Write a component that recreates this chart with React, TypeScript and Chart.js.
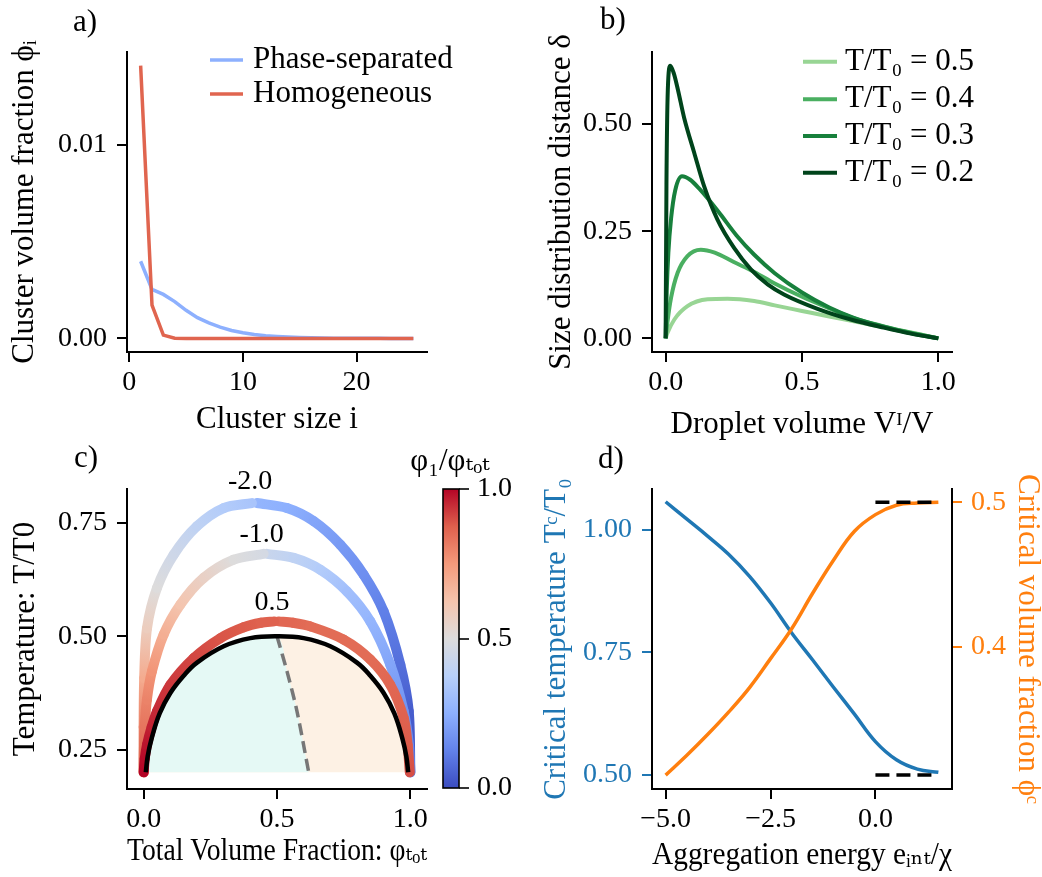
import React, { useEffect, useRef } from 'react';
import { Chart, registerables } from 'chart.js';
Chart.register(...registerables);

const W = 1042;
const H = 877;
const FONT = "'Liberation Serif', 'DejaVu Serif', serif";
const TICK_SIZE = 28;
const TITLE_SIZE = 31;
Chart.defaults.font.family = FONT;
Chart.defaults.color = '#000';

// ---------------- Panel a data ----------------
const CLUSTER_SIZE = [1, 2, 3, 4, 5, 6, 7, 8, 9, 10, 11, 12, 13, 14, 15, 16, 17, 18, 19, 20, 21, 22, 23, 24, 25];
const PHASE_SEPARATED = [0.00398, 0.00253, 0.00227, 0.00190, 0.00145, 0.00107, 0.00080, 0.00058, 0.00041, 0.00029, 0.00020, 0.00014, 0.00010, 0.00007, 0.00005, 0.00003, 0.00002, 0.000015, 0.00001, 0.000007, 0.000005, 0.000003, 0.000002, 0.000001, 0.000001];
const HOMOGENEOUS = [0.01407, 0.00172, 0.00017, 0.00001, 0, 0, 0, 0, 0, 0, 0, 0, 0, 0, 0, 0, 0, 0, 0, 0, 0, 0, 0, 0, 0];
const A_X_TICKS = [0, 10, 20];
const A_X_LABELS = ['0', '10', '20'];
const A_Y_TICKS = [0, 0.01];
const A_Y_LABELS = ['0.00', '0.01'];

// ---------------- Panel b data ----------------
const B_LABELS = ['T/T₀ = 0.5', 'T/T₀ = 0.4', 'T/T₀ = 0.3', 'T/T₀ = 0.2'];
const B_X_05 = [0, 0.007, 0.032, 0.08, 0.154, 0.227, 0.325, 0.4, 0.5, 0.6, 0.69, 0.8, 0.874, 1.0];
const B_Y_05 = [0, 0.013, 0.044, 0.075, 0.091, 0.0924, 0.087, 0.077, 0.064, 0.051, 0.04, 0.026, 0.017, 0];
const B_X_04 = [0, 0.007, 0.02, 0.044, 0.08, 0.129, 0.18, 0.25, 0.325, 0.4, 0.5, 0.6, 0.69, 0.8, 0.9, 1.0];
const B_Y_04 = [0, 0.04, 0.095, 0.153, 0.192, 0.207, 0.2, 0.178, 0.155, 0.128, 0.097, 0.07, 0.047, 0.028, 0.013, 0];
const B_X_03 = [0, 0.004, 0.01, 0.02, 0.035, 0.06, 0.09, 0.125, 0.16, 0.2, 0.26, 0.325, 0.4, 0.5, 0.6, 0.69, 0.8, 0.9, 1.0];
const B_Y_03 = [0, 0.11, 0.2, 0.28, 0.345, 0.378, 0.37, 0.348, 0.322, 0.29, 0.24, 0.195, 0.152, 0.107, 0.072, 0.048, 0.027, 0.012, 0];
const B_X_02 = [0, 0.003, 0.008, 0.017, 0.03, 0.045, 0.068, 0.105, 0.141, 0.19, 0.251, 0.3125, 0.374, 0.434, 0.557, 0.679, 0.8, 0.9, 1.0];
const B_Y_02 = [0, 0.36, 0.58, 0.636, 0.618, 0.58, 0.514, 0.4325, 0.355, 0.277, 0.211, 0.161, 0.126, 0.1025, 0.069, 0.044, 0.025, 0.011, 0];
const B_X_TICKS = [0, 0.5, 1];
const B_X_LABELS = ['0.0', '0.5', '1.0'];
const B_Y_TICKS = [0, 0.25, 0.5];
const B_Y_LABELS = ['0.00', '0.25', '0.50'];

// ---------------- Panel c data ----------------
const BLACK_PHI = [0.008, 0.015, 0.03, 0.06, 0.1, 0.15, 0.2, 0.3, 0.4, 0.5, 0.6, 0.7, 0.8, 0.85, 0.9, 0.94, 0.97, 0.985, 0.992];
const BLACK_T = [0.2, 0.235, 0.275, 0.33, 0.375, 0.413, 0.442, 0.478, 0.496, 0.5, 0.496, 0.478, 0.442, 0.413, 0.375, 0.33, 0.275, 0.235, 0.2];
const DASH_PHI = [0.5, 0.5375, 0.575, 0.619];
const DASH_T = [0.5, 0.4228, 0.3346, 0.2];

const E05_L_PHI = [0.0, 0.004, 0.0125, 0.03, 0.05, 0.1, 0.1875, 0.2875, 0.375, 0.44, 0.49];
const E05_L_T = [0.2, 0.23, 0.261, 0.3, 0.335, 0.393, 0.452, 0.496, 0.52, 0.53, 0.533];
const E05_L_C = [1.0, 0.99, 0.98, 0.96, 0.95, 0.93, 0.91, 0.89, 0.88, 0.87, 0.87];
const E05_R_PHI = [0.506, 0.56, 0.625, 0.75, 0.85, 0.925, 0.975, 0.99, 0.998];
const E05_R_T = [0.533, 0.53, 0.522, 0.493, 0.449, 0.393, 0.32, 0.26, 0.2];
const E05_R_C = [0.86, 0.86, 0.85, 0.85, 0.85, 0.86, 0.87, 0.88, 0.9];

const EM1_L_PHI = [0.0, 0.001, 0.004, 0.012, 0.031, 0.075, 0.1375, 0.225, 0.3375, 0.45];
const EM1_L_T = [0.2, 0.25, 0.3, 0.36, 0.423, 0.504, 0.57, 0.629, 0.669, 0.682];
const EM1_L_C = [0.86, 0.85, 0.83, 0.8, 0.76, 0.69, 0.62, 0.56, 0.5, 0.47];
const EM1_R_PHI = [0.4625, 0.5625, 0.6625, 0.7625, 0.85, 0.925, 0.975, 0.995, 1.0];
const EM1_R_T = [0.682, 0.673, 0.647, 0.599, 0.533, 0.4375, 0.335, 0.26, 0.2];
const EM1_R_C = [0.43, 0.4, 0.36, 0.31, 0.27, 0.22, 0.17, 0.14, 0.12];

const EM2_L_PHI = [0.0, 0.0, 0.002, 0.0125, 0.05, 0.1125, 0.2, 0.3, 0.406];
const EM2_L_T = [0.2, 0.3, 0.408, 0.518, 0.607, 0.68, 0.743, 0.783, 0.794];
const EM2_L_C = [0.85, 0.8, 0.7, 0.58, 0.5, 0.45, 0.4, 0.36, 0.33];
const EM2_R_PHI = [0.425, 0.5375, 0.6375, 0.7375, 0.825, 0.9, 0.9625, 0.994, 1.0];
const EM2_R_T = [0.794, 0.783, 0.754, 0.702, 0.636, 0.555, 0.4375, 0.335, 0.2];
const EM2_R_C = [0.27, 0.25, 0.22, 0.19, 0.16, 0.12, 0.08, 0.04, 0.02];

const E_LABELS = ['-2.0', '-1.0', '0.5'];
const E_LABEL_PHI = [0.399, 0.4425, 0.481];
const E_LABEL_T = [0.8406, 0.7236, 0.5736];
const C_X_TICKS = [0, 0.5, 1];
const C_X_LABELS = ['0.0', '0.5', '1.0'];
const C_Y_TICKS = [0.25, 0.5, 0.75];
const C_Y_LABELS = ['0.25', '0.50', '0.75'];
const CB_TICKS = [0, 0.5, 1];
const CB_LABELS = ['0.0', '0.5', '1.0'];

// ---------------- Panel d data ----------------
const E_INT = [-5, -4.5, -4, -3.5, -3, -2.5, -2, -1.5, -1, -0.5, 0, 0.5, 1, 1.5];
const T_CRIT = [1.057, 1.022, 0.987, 0.95, 0.905, 0.851, 0.79, 0.735, 0.679, 0.624, 0.568, 0.531, 0.512, 0.5055];
const PHI_CRIT = [0.3115, 0.325, 0.3395, 0.355, 0.372, 0.392, 0.4125, 0.437, 0.46, 0.48, 0.4915, 0.498, 0.4995, 0.5];
const LIMIT_X = [0, 1.5];
const T_LIMIT = 0.5;
const PHI_LIMIT = 0.5;
const D_X_TICKS = [-5, -2.5, 0];
const D_X_LABELS = ['\u22125.0', '\u22122.5', '0.0'];
const D_YL_TICKS = [0.5, 0.75, 1.0];
const D_YL_LABELS = ['0.50', '0.75', '1.00'];
const D_YR_TICKS = [0.4, 0.5];
const D_YR_LABELS = ['0.4', '0.5'];

// ---------------- colours ----------------
const BLUE_A = '#8db0fe';
const RED_A = '#e0654f';
const GREENS = ['#98d594', '#4aaf61', '#17803c', '#00441b'];
const TAB_BLUE = '#1f77b4';
const TAB_ORANGE = '#ff7f0e';
const COOLWARM: [number, number[]][] = [
  [0, [59, 76, 192]], [0.125, [98, 130, 234]], [0.25, [141, 176, 254]], [0.375, [184, 208, 249]],
  [0.5, [221, 220, 220]], [0.625, [245, 196, 173]], [0.75, [244, 154, 123]], [0.875, [222, 96, 77]], [1, [180, 4, 38]],
];
function coolwarm(v: number): string {
  const t = Math.max(0, Math.min(1, v));
  for (let i = 1; i < COOLWARM.length; i++) {
    const [v1, c1] = COOLWARM[i];
    const [v0, c0] = COOLWARM[i - 1];
    if (t <= v1) {
      const f = (t - v0) / (v1 - v0);
      const c = c0.map((a, k) => Math.round(a + (c1[k] - a) * f));
      return `rgb(${c[0]},${c[1]},${c[2]})`;
    }
  }
  return 'rgb(180,4,38)';
}

// ---------------- helpers ----------------
const HALF = TITLE_SIZE / 2;
function frame(l: number, r: number, t: number, b: number, yTitleX: number, xTitleY: number, rTitleX?: number) {
  const padLeft = yTitleX - HALF;
  const bottomEdge = xTitleY + HALF;
  const rightEdge = rTitleX !== undefined ? Math.min(W, rTitleX + HALF) : r;
  return {
    padding: { left: padLeft, top: t, right: W - rightEdge, bottom: H - bottomEdge },
    yWidth: l - padLeft,
    xHeight: bottomEdge - b,
    rWidth: rightEdge - r,
    rTitlePad: rTitleX !== undefined ? (rightEdge - rTitleX) - HALF : 0,
  };
}

function scale(o: any) {
  const vertical = o.position === 'left' || o.position === 'right';
  const col = o.color ?? '#000';
  return {
    type: 'linear',
    position: o.position,
    display: o.display ?? true,
    min: o.min,
    max: o.max,
    afterBuildTicks: (s: any) => { s.ticks = o.ticks.map((v: number) => ({ value: v })); },
    afterFit: (s: any) => { if (vertical) s.width = o.size; else s.height = o.size; },
    grid: { display: true, drawOnChartArea: false, drawTicks: true, tickLength: o.tickLength ?? 10, tickWidth: o.tickWidth ?? 2, tickColor: col, color: col, lineWidth: 2 },
    border: { display: o.border ?? true, color: '#000', width: 2 },
    ticks: {
      color: col, font: { family: FONT, size: TICK_SIZE }, autoSkip: false, maxRotation: 0, minRotation: 0,
      padding: o.padding ?? (vertical ? 10 : 4),
      callback: (_v: any, i: number) => o.labels[i],
    },
    title: { display: !!o.title, text: o.title, color: o.titleColor ?? '#000', font: { family: FONT, size: TITLE_SIZE, lineHeight: 1 }, padding: o.titlePad ?? 0 },
  };
}

function pts(xs: number[], ys: number[]) { return xs.map((x, i) => ({ x, y: ys[i] })); }

function makeExtras(cfg: any) {
  return {
    id: 'extras',
    beforeDatasetsDraw(chart: any) {
      if (!cfg.colorbar) return;
      const { ctx, chartArea: a } = chart;
      const ys = chart.scales.y;
      const g = ctx.createLinearGradient(0, ys.getPixelForValue(0), 0, ys.getPixelForValue(1));
      COOLWARM.forEach(([v]) => g.addColorStop(v, coolwarm(v)));
      ctx.save();
      ctx.fillStyle = g;
      ctx.fillRect(a.left, a.top, a.right - a.left, a.bottom - a.top);
      ctx.lineWidth = 1.6;
      ctx.strokeStyle = '#000';
      ctx.strokeRect(a.left, a.top, a.right - a.left, a.bottom - a.top);
      ctx.restore();
    },
    afterDraw(chart: any) {
      const ctx = chart.ctx;
      (cfg.texts || []).forEach((t: any) => {
        ctx.save();
        ctx.font = `${t.size ?? TITLE_SIZE}px ${FONT}`;
        ctx.fillStyle = t.color ?? '#000';
        ctx.textAlign = t.align ?? 'left';
        ctx.textBaseline = t.baseline ?? 'alphabetic';
        let x = t.x;
        let y = t.y;
        if (t.data) { x = chart.scales.x.getPixelForValue(t.x); y = chart.scales.y.getPixelForValue(t.y); }
        ctx.fillText(t.text, x, y);
        ctx.restore();
      });
      const lg = cfg.legend;
      if (lg) {
        lg.labels.forEach((label: string, i: number) => {
          const ds = chart.data.datasets.find((d: any) => d.label === label);
          if (!ds) return;
          const y = lg.ys[i];
          ctx.save();
          ctx.strokeStyle = ds.borderColor;
          ctx.lineWidth = ds.borderWidth;
          ctx.beginPath();
          ctx.moveTo(lg.x0, y);
          ctx.lineTo(lg.x1, y);
          ctx.stroke();
          ctx.font = `${TITLE_SIZE}px ${FONT}`;
          ctx.fillStyle = '#000';
          ctx.textAlign = 'left';
          ctx.textBaseline = 'middle';
          ctx.fillText(label, lg.tx, y);
          ctx.restore();
        });
      }
    },
  };
}

function baseOptions(f: any, scales: any) {
  return {
    responsive: false,
    animation: false,
    devicePixelRatio: 1,
    events: [],
    layout: { padding: f.padding, autoPadding: false },
    plugins: { legend: { display: false }, tooltip: { enabled: false }, title: { display: false } },
    scales,
  };
}

// ---------------- panels ----------------
function panelA() {
  const f = frame(127, 427, 52, 352, 24.5, 420);
  return {
    type: 'line',
    data: {
      datasets: [
        { label: 'Homogeneous', data: pts(CLUSTER_SIZE, HOMOGENEOUS), borderColor: RED_A, borderWidth: 3.5, pointRadius: 0, tension: 0, order: 0 },
        { label: 'Phase-separated', data: pts(CLUSTER_SIZE, PHASE_SEPARATED), borderColor: BLUE_A, borderWidth: 3.5, pointRadius: 0, tension: 0, order: 1 },
      ],
    },
    options: baseOptions(f, {
      x: scale({ position: 'bottom', min: -0.2, max: 26.2, ticks: A_X_TICKS, labels: A_X_LABELS, size: f.xHeight, title: 'Cluster size i' }),
      y: scale({ position: 'left', min: -0.0007, max: 0.01477, ticks: A_Y_TICKS, labels: A_Y_LABELS, size: f.yWidth, title: 'Cluster volume fraction \u03d5\u1d62' }),
    }),
    plugins: [makeExtras({
      texts: [{ text: 'a)', x: 73, y: 30.5 }],
      legend: { labels: ['Phase-separated', 'Homogeneous'], ys: [60, 94], x0: 210, x1: 243, tx: 253 },
    })],
  };
}

function panelB() {
  const f = frame(652, 952, 52, 352, 562, 425);
  const xs = [B_X_05, B_X_04, B_X_03, B_X_02];
  const ys = [B_Y_05, B_Y_04, B_Y_03, B_Y_02];
  return {
    type: 'line',
    data: {
      datasets: B_LABELS.map((label, i) => ({
        label, data: pts(xs[i], ys[i]), borderColor: GREENS[i], borderWidth: 4, pointRadius: 0,
        cubicInterpolationMode: 'monotone', order: 3 - i,
      })),
    },
    options: baseOptions(f, {
      x: scale({ position: 'bottom', min: -0.05, max: 1.05, ticks: B_X_TICKS, labels: B_X_LABELS, size: f.xHeight, title: 'Droplet volume V\u1d35/V' }),
      y: scale({ position: 'left', min: -0.0318, max: 0.668, ticks: B_Y_TICKS, labels: B_Y_LABELS, size: f.yWidth, title: 'Size distribution distance \u03b4' }),
    }),
    plugins: [makeExtras({
      texts: [{ text: 'b)', x: 600, y: 29 }],
      legend: { labels: B_LABELS, ys: [61.7, 99.3, 136, 172.7], x0: 803, x1: 837, tx: 845 },
    })],
  };
}

function gradientSegment(cvals: number[]) {
  return {
    borderColor: (ctx: any) => {
      const { p0, p1, p0DataIndex, p1DataIndex } = ctx;
      const g = ctx.chart.ctx.createLinearGradient(p0.x, p0.y, p1.x, p1.y);
      g.addColorStop(0, coolwarm(cvals[p0DataIndex]));
      g.addColorStop(1, coolwarm(cvals[p1DataIndex]));
      return g;
    },
    borderDashOffset: (ctx: any) => ctx.p0DataIndex * 0.001,
    borderCapStyle: 'round',
    borderJoinStyle: 'round',
    borderWidth: 10,
  };
}

function colouredCurve(phi: number[], t: number[], c: number[], order: number) {
  return {
    data: pts(phi, t), borderColor: coolwarm(c[0]), borderWidth: 10, pointRadius: 0, tension: 0.3,
    borderCapStyle: 'round', borderJoinStyle: 'round', segment: gradientSegment(c), order,
  };
}

function panelC() {
  const f = frame(127, 427, 489, 789, 25.5, 852);
  const blackPts = pts(BLACK_PHI, BLACK_T);
  const cyanPts = [...blackPts.filter((p) => p.x <= 0.5), ...pts(DASH_PHI, DASH_T).slice(1)];
  return {
    type: 'line',
    data: {
      datasets: [
        { data: blackPts, borderColor: '#000', borderWidth: 4.5, pointRadius: 0, tension: 0.4, order: 0 },
        { data: pts(DASH_PHI, DASH_T), borderColor: '#777777', borderWidth: 3.5, borderDash: [12, 6], pointRadius: 0, tension: 0.3, order: 1 },
        colouredCurve(E05_L_PHI, E05_L_T, E05_L_C, 2),
        colouredCurve(E05_R_PHI, E05_R_T, E05_R_C, 3),
        colouredCurve(EM1_L_PHI, EM1_L_T, EM1_L_C, 4),
        colouredCurve(EM1_R_PHI, EM1_R_T, EM1_R_C, 5),
        colouredCurve(EM2_L_PHI, EM2_L_T, EM2_L_C, 6),
        colouredCurve(EM2_R_PHI, EM2_R_T, EM2_R_C, 7),
        { data: cyanPts, borderColor: 'rgba(0,0,0,0)', borderWidth: 0, pointRadius: 0, tension: 0.4, fill: { value: 0.2 }, backgroundColor: '#e5f9f5', order: 8 },
        { data: blackPts, borderColor: 'rgba(0,0,0,0)', borderWidth: 0, pointRadius: 0, tension: 0.4, fill: { value: 0.2 }, backgroundColor: '#fdf1e4', order: 9 },
      ],
    },
    options: baseOptions(f, {
      x: scale({ position: 'bottom', min: -0.0625, max: 1.0625, ticks: C_X_TICKS, labels: C_X_LABELS, size: f.xHeight, title: 'Total Volume Fraction: \u03c6\u209c\u2092\u209c' }),
      y: scale({ position: 'left', min: 0.1633, max: 0.825, ticks: C_Y_TICKS, labels: C_Y_LABELS, size: f.yWidth, title: 'Temperature: T/T0' }),
    }),
    plugins: [makeExtras({
      texts: [
        { text: 'c)', x: 74, y: 467 },
        ...E_LABELS.map((text, i) => ({ text, x: E_LABEL_PHI[i], y: E_LABEL_T[i], data: true, align: 'center', baseline: 'middle', size: TICK_SIZE })),
      ],
    })],
  };
}

function colorbar() {
  const f = { padding: { left: 443, top: 489, right: W - 459 - 60, bottom: H - 788 } };
  return {
    type: 'line',
    data: { datasets: [] },
    options: baseOptions(f, {
      x: { type: 'linear', display: false, min: 0, max: 1 },
      y: scale({ position: 'right', min: 0, max: 1, ticks: CB_TICKS, labels: CB_LABELS, size: 60, border: false, tickWidth: 1.6, padding: 8 }),
    }),
    plugins: [makeExtras({
      colorbar: true,
      texts: [{ text: '\u03c6\u2081/\u03c6\u209c\u2092\u209c', x: 450, y: 462, align: 'center', baseline: 'middle' }],
    })],
  };
}

function panelD() {
  const f = frame(652, 952, 489, 789, 557, 856, 1026.7);
  return {
    type: 'line',
    data: {
      datasets: [
        { data: pts(LIMIT_X, LIMIT_X.map(() => T_LIMIT)), yAxisID: 'y', borderColor: '#000', borderWidth: 3.5, borderDash: [14, 7], pointRadius: 0, order: 0 },
        { data: pts(LIMIT_X, LIMIT_X.map(() => PHI_LIMIT)), yAxisID: 'y1', borderColor: '#000', borderWidth: 3.5, borderDash: [14, 7], pointRadius: 0, order: 1 },
        { data: pts(E_INT, T_CRIT), yAxisID: 'y', borderColor: TAB_BLUE, borderWidth: 3.5, pointRadius: 0, tension: 0.4, order: 3 },
        { data: pts(E_INT, PHI_CRIT), yAxisID: 'y1', borderColor: TAB_ORANGE, borderWidth: 3.5, pointRadius: 0, tension: 0.4, order: 2 },
      ],
    },
    options: baseOptions(f, {
      x: scale({ position: 'bottom', min: -5.325, max: 1.825, ticks: D_X_TICKS, labels: D_X_LABELS, size: f.xHeight, title: 'Aggregation energy e\u1d62\u2099\u209c/\u03c7' }),
      y: scale({ position: 'left', min: 0.4715, max: 1.083, ticks: D_YL_TICKS, labels: D_YL_LABELS, size: f.yWidth, color: TAB_BLUE, titleColor: TAB_BLUE, title: 'Critical temperature T\u1d9c/T\u2080' }),
      y1: scale({ position: 'right', min: 0.3019, max: 0.5092, ticks: D_YR_TICKS, labels: D_YR_LABELS, size: f.rWidth, color: TAB_ORANGE, titleColor: TAB_ORANGE, padding: 9, titlePad: f.rTitlePad, title: 'Critical volume fraction \u03d5\u1d9c' }),
    }),
    plugins: [makeExtras({ texts: [{ text: 'd)', x: 598, y: 468 }] })],
  };
}

function ChartCanvas({ make }: { make: () => any }) {
  const ref = useRef<HTMLCanvasElement>(null);
  useEffect(() => {
    const chart = new Chart(ref.current as HTMLCanvasElement, make() as any);
    return () => chart.destroy();
  }, []);
  return <canvas ref={ref} width={W} height={H} style={{ position: 'absolute', left: 0, top: 0, width: W, height: H }} />;
}

export default function App() {
  return (
    <div style={{ position: 'absolute', left: 0, top: 0, width: W, height: H, background: '#fff', overflow: 'hidden' }}>
      <ChartCanvas make={panelA} />
      <ChartCanvas make={panelB} />
      <ChartCanvas make={panelC} />
      <ChartCanvas make={colorbar} />
      <ChartCanvas make={panelD} />
    </div>
  );
}
